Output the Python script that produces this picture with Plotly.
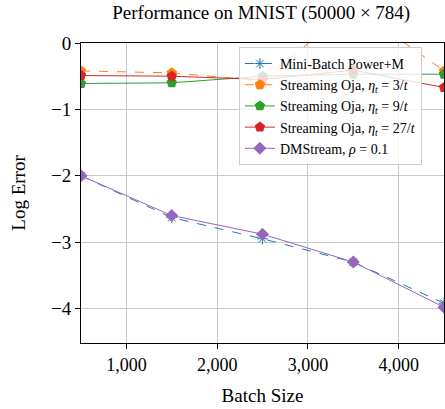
import plotly.graph_objects as go

batch_sizes = [500, 1500, 2500, 3500, 4500]
minibatch_power = [-2.0, -2.63, -2.95, -3.3, -3.92]
oja_3 = [-0.42, -0.45, -0.57, 0.55, -0.42]
oja_9 = [-0.61, -0.6, -0.5, -0.47, -0.47]
oja_27 = [-0.49, -0.5, -0.55, -0.41, -0.67]
dmstream = [-2.0, -2.6, -2.88, -3.3, -3.98]

x_ticks = [1000, 2000, 3000, 4000]
y_ticks = [0, -1, -2, -3, -4]

FONT = "Liberation Serif"

fig = go.Figure()
fig.add_trace(go.Scatter(x=batch_sizes, y=minibatch_power, mode="lines+markers",
                         name="Mini-Batch Power+M",
                         line=dict(color="#1f77b4", width=1, dash="dash"),
                         marker=dict(symbol="asterisk-open", size=9, color="#1f77b4",
                                     line=dict(color="#1f77b4", width=1))))
fig.add_trace(go.Scatter(x=batch_sizes, y=oja_3, mode="lines+markers",
                         name="Streaming Oja, <i>η<sub>t</sub></i> = 3/<i>t</i>",
                         line=dict(color="#ff7f0e", width=1, dash="dash"),
                         marker=dict(symbol="pentagon", size=11, color="#ff7f0e")))
fig.add_trace(go.Scatter(x=batch_sizes, y=oja_9, mode="lines+markers",
                         name="Streaming Oja, <i>η<sub>t</sub></i> = 9/<i>t</i>",
                         line=dict(color="#2ca02c", width=1),
                         marker=dict(symbol="pentagon", size=11, color="#2ca02c")))
fig.add_trace(go.Scatter(x=batch_sizes, y=oja_27, mode="lines+markers",
                         name="Streaming Oja, <i>η<sub>t</sub></i> = 27/<i>t</i>",
                         line=dict(color="#d62728", width=1),
                         marker=dict(symbol="pentagon", size=11, color="#d62728")))
fig.add_trace(go.Scatter(x=batch_sizes, y=dmstream, mode="lines+markers",
                         name="DMStream, <i>ρ</i> = 0.1",
                         line=dict(color="#9467bd", width=1),
                         marker=dict(symbol="diamond", size=10, color="#9467bd")))

fig.update_layout(
    width=445, height=409,
    margin=dict(l=81, r=1, t=43, b=66),
    paper_bgcolor="white", plot_bgcolor="white",
    font=dict(family=FONT, size=17, color="black"),
    title=dict(text="Performance on MNIST (50000 × 784)", x=0.587, xanchor="center",
               y=0.985, yanchor="top", font=dict(family=FONT, size=19)),
    legend=dict(x=0.435, y=0.987, xanchor="left", yanchor="top",
                bgcolor="rgba(255,255,255,0.8)", bordercolor="#cccccc", borderwidth=1,
                font=dict(family=FONT, size=14), tracegroupgap=0, itemwidth=30),
    showlegend=True,
)
fig.update_xaxes(range=[500, 4500], tickvals=x_ticks, tickformat=",d",
                 showgrid=True, gridcolor="#c8c8c8", gridwidth=1,
                 showline=True, linecolor="black", linewidth=1, mirror=True,
                 ticks="outside", ticklen=5, tickcolor="black", zeroline=False,
                 title=dict(text="Batch Size", font=dict(family=FONT, size=19), standoff=15),
                 tickfont=dict(family=FONT, size=18))
fig.update_yaxes(range=[-4.52, 0], tickvals=y_ticks,
                 showgrid=True, gridcolor="#c8c8c8", gridwidth=1,
                 showline=True, linecolor="black", linewidth=1, mirror=True,
                 ticks="outside", ticklen=5, tickcolor="black", zeroline=False,
                 title=dict(text="Log Error", font=dict(family=FONT, size=19), standoff=20),
                 tickfont=dict(family=FONT, size=19))

fig.write_html("out.html")
